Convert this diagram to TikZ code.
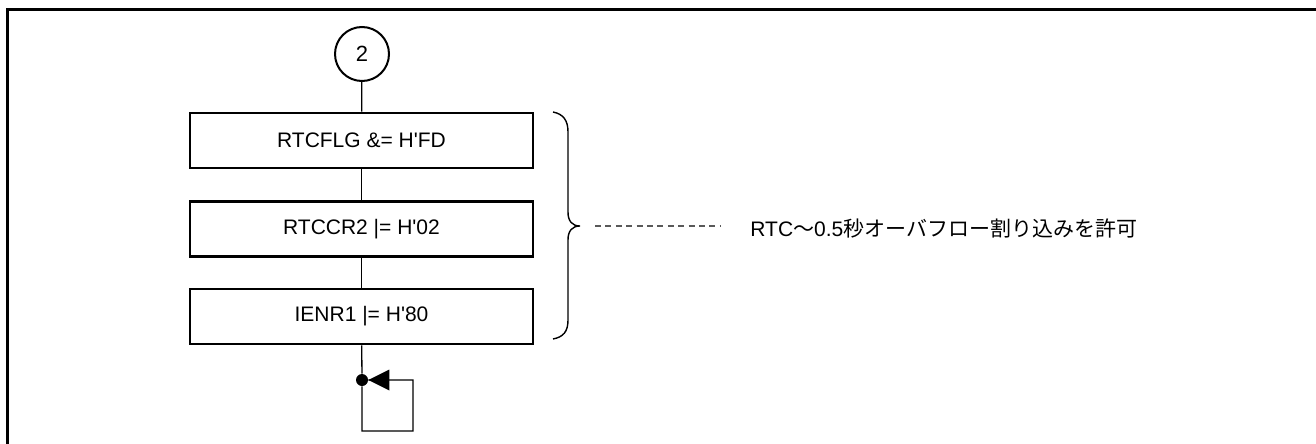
\documentclass[tikz,border=0pt]{standalone}
\usepackage{fontspec}
\setmainfont{Liberation Sans}
\newfontfamily\cjk{Noto Sans CJK JP}
\usetikzlibrary{arrows.meta}
\begin{document}
\begin{tikzpicture}[x=0.5pt,y=-0.5pt,
  procbox/.style={draw, line width=1.3pt, minimum width=171.5pt, minimum height=27.5pt, inner sep=0pt, font=\fontsize{10.5}{12}\selectfont},
  conn/.style={line width=0.65pt},
  connector/.style={draw, circle, line width=1pt, minimum size=27pt, inner sep=0pt, font=\fontsize{11}{12}\selectfont},
  dotnode/.style={circle, fill=black, minimum size=6pt, inner sep=0pt},
  note/.style={font=\fontsize{10.5}{12}\selectfont, anchor=west, inner sep=0pt}]
\useasboundingbox (0,0) rectangle (1316,444);
% frame
\draw[line width=1.5pt] (7.5,460) -- (7.5,9.5) -- (1330,9.5);
% nodes
\node[connector] (c2) at (362,54) {2};
\node[procbox] (b1) at (361.5,140.5) {RTCFLG \&= H\textquotesingle FD};
\node[procbox] (b2) at (361.5,229) {RTCCR2 |= H\textquotesingle 02};
\node[procbox] (b3) at (361.5,316.5) {IENR1 |= H\textquotesingle 80};
\node[dotnode] (dot) at (362,380) {};
\coordinate (lb) at (362,431);
\coordinate (rt) at (413,380);
% connectors
\draw[conn] (c2) -- (b1);
\draw[conn] (b1) -- (b2);
\draw[conn] (b2) -- (b3);
\draw[conn] (b3) -- (dot) -- (lb) -| (rt) -- (dot.east);
\fill (dot.east) -- ++(21,-10.5) -- ++(0,21) -- cycle;
% brace
\draw[line width=0.7pt] (553,112) .. controls (563,114) and (568,120) .. (568,132)
  -- (568,212) .. controls (568,221) and (572,226) .. (580,226)
  .. controls (572,226) and (568,231) .. (568,240)
  -- (568,320) .. controls (568,332) and (563,337) .. (553,339);
\coordinate (bt) at (595,226);
\node[note] (txt) at (750,228) {RTC{\cjk ～}0.5{\cjk 秒オーバフロー割り込みを許可}};
\draw[gray!70!black, line width=0.6pt, dash pattern=on 3pt off 2.2pt] (bt) -- (720,226);
\end{tikzpicture}
\end{document}
